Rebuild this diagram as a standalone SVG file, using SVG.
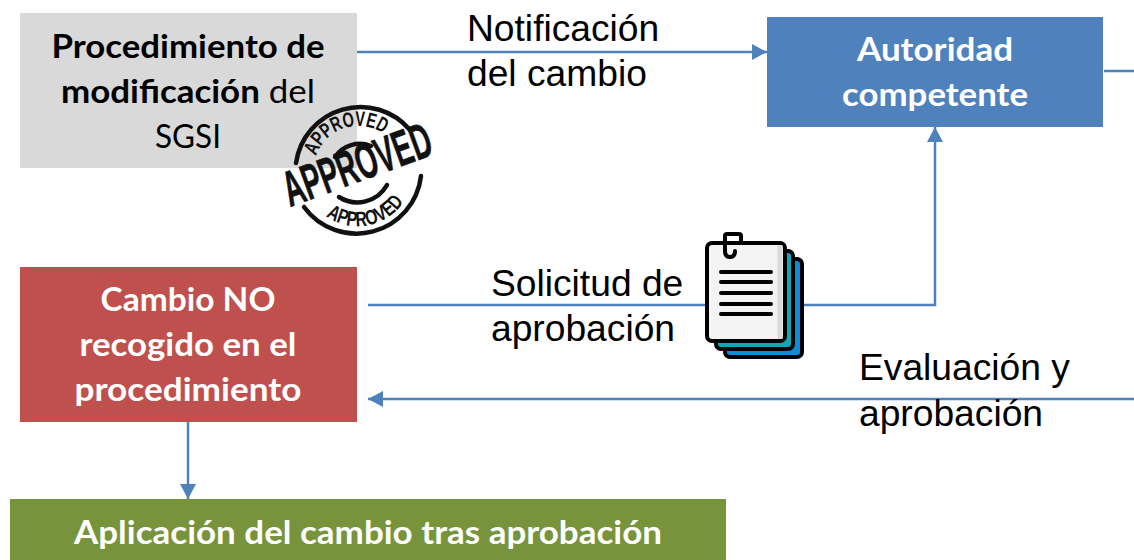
<svg xmlns="http://www.w3.org/2000/svg" width="1134" height="560" viewBox="0 0 1134 560">
<style>
.box{font-family:"Lato","Liberation Sans",sans-serif;font-size:33px;text-anchor:middle}
.b{font-weight:700}
.w{fill:#fff;font-weight:700}
.lab{font-family:"Liberation Sans",Arial,sans-serif;font-size:37.2px;fill:#000}
.conn{fill:none;stroke:#4f81bd;stroke-width:2.5}
.ring{fill:none;stroke:#111;stroke-width:4.5;stroke-linecap:round}
.arc{font-family:"Liberation Sans",sans-serif;font-weight:700;font-size:21px;fill:#111}
.pg{stroke:#000;stroke-width:4;stroke-linejoin:round}
.ln{stroke:#000;stroke-width:4;stroke-linecap:round}
</style>
<defs>
<marker id="ah" markerUnits="userSpaceOnUse" markerWidth="16" markerHeight="16" refX="15" refY="8" orient="auto"><path d="M0 0L15 8L0 16Z" fill="#4f81bd"/></marker>
<path id="t1" d="M316 156A45 45 0 0 1 388 137"/>
<path id="t2" d="M326 216A55 55 0 0 0 405 200"/>
</defs>
<g id="n-procedimiento"><rect x="20" y="13" width="337" height="155" fill="#d9d9d9"/>
<text class="box b" x="188" y="58" textLength="273" lengthAdjust="spacingAndGlyphs">Procedimiento de</text>
<text class="box" x="188" y="103" textLength="254" lengthAdjust="spacingAndGlyphs"><tspan class="b">modificación</tspan> del</text>
<text class="box" x="188" y="148" textLength="66" lengthAdjust="spacingAndGlyphs">SGSI</text></g>
<g id="n-autoridad"><rect x="767" y="17" width="336" height="110" fill="#4f81bd"/>
<text class="box w" x="935" y="61" textLength="156" lengthAdjust="spacingAndGlyphs">Autoridad</text><text class="box w" x="935" y="106" textLength="186" lengthAdjust="spacingAndGlyphs">competente</text></g>
<g id="n-cambio"><rect x="20" y="267" width="337" height="155" fill="#c0504d"/>
<text class="box w" x="188" y="311" textLength="175" lengthAdjust="spacingAndGlyphs">Cambio NO</text><text class="box w" x="188" y="356" textLength="217" lengthAdjust="spacingAndGlyphs">recogido en el</text><text class="box w" x="188" y="401" textLength="227" lengthAdjust="spacingAndGlyphs">procedimiento</text></g>
<g id="n-aplicacion"><rect x="10" y="499" width="716" height="61" fill="#77933c"/>
<text class="box w" x="368" y="544" textLength="588" lengthAdjust="spacingAndGlyphs">Aplicación del cambio tras aprobación</text></g>
<g id="connectors">
<path class="conn" d="M357 52H767" marker-end="url(#ah)"/>
<path class="conn" d="M368 305H935V127" marker-end="url(#ah)"/>
<path class="conn" d="M1134 399H368" marker-end="url(#ah)"/>
<path class="conn" d="M188 422V499" marker-end="url(#ah)"/>
<path class="conn" d="M1104 71H1134"/>
</g>
<g id="labels">
<text class="lab" x="467" y="41">Notificación</text><text class="lab" x="467" y="86">del cambio</text>
<text class="lab" x="491" y="296">Solicitud de</text><text class="lab" x="491" y="341">aprobación</text>
<text class="lab" x="859" y="380">Evaluación y</text><text class="lab" x="859" y="426">aprobación</text>
</g>
<g id="stamp">
<path class="ring" d="M296 163A65 65 0 0 1 410 130"/>
<path class="ring" d="M304 207A65 65 0 0 0 421 176"/>
<path class="ring" stroke-width="3" d="M335 157A30 30 0 0 1 371 146"/>
<path class="ring" stroke-width="3" d="M339 197A34 34 0 0 0 387 185"/>
<text class="arc"><textPath href="#t1" textLength="82" lengthAdjust="spacingAndGlyphs">APPROVED</textPath></text>
<text class="arc"><textPath href="#t2" textLength="88" lengthAdjust="spacingAndGlyphs">APPROVED</textPath></text>
<text transform="translate(290 207) rotate(-20)" font-family="Liberation Sans,sans-serif" font-weight="700" font-size="50" fill="#111" stroke="#111" stroke-width="0.6" textLength="155" lengthAdjust="spacingAndGlyphs">APPROVED</text>
</g>
<g id="document">
<rect x="725" y="259" width="77" height="98" rx="5" fill="#0d8bd9" class="pg"/>
<rect x="716" y="251" width="77" height="98" rx="5" fill="#12a5b5" class="pg"/>
<rect x="707" y="243" width="78" height="98" rx="5" fill="#f4f4f4" class="pg"/>
<path d="M780 245V339" stroke="#d8dade" stroke-width="5"/>
<path d="M735 251Q735 257 730 257Q725 257 725 251V236Q725 234 727 234H739Q741 234 741 236V243" fill="none" stroke="#000" stroke-width="4" stroke-linecap="round"/>
<path class="ln" d="M721 272H771M721 282H771M721 293H771M721 304H771M721 314H771"/>
</g>
</svg>
